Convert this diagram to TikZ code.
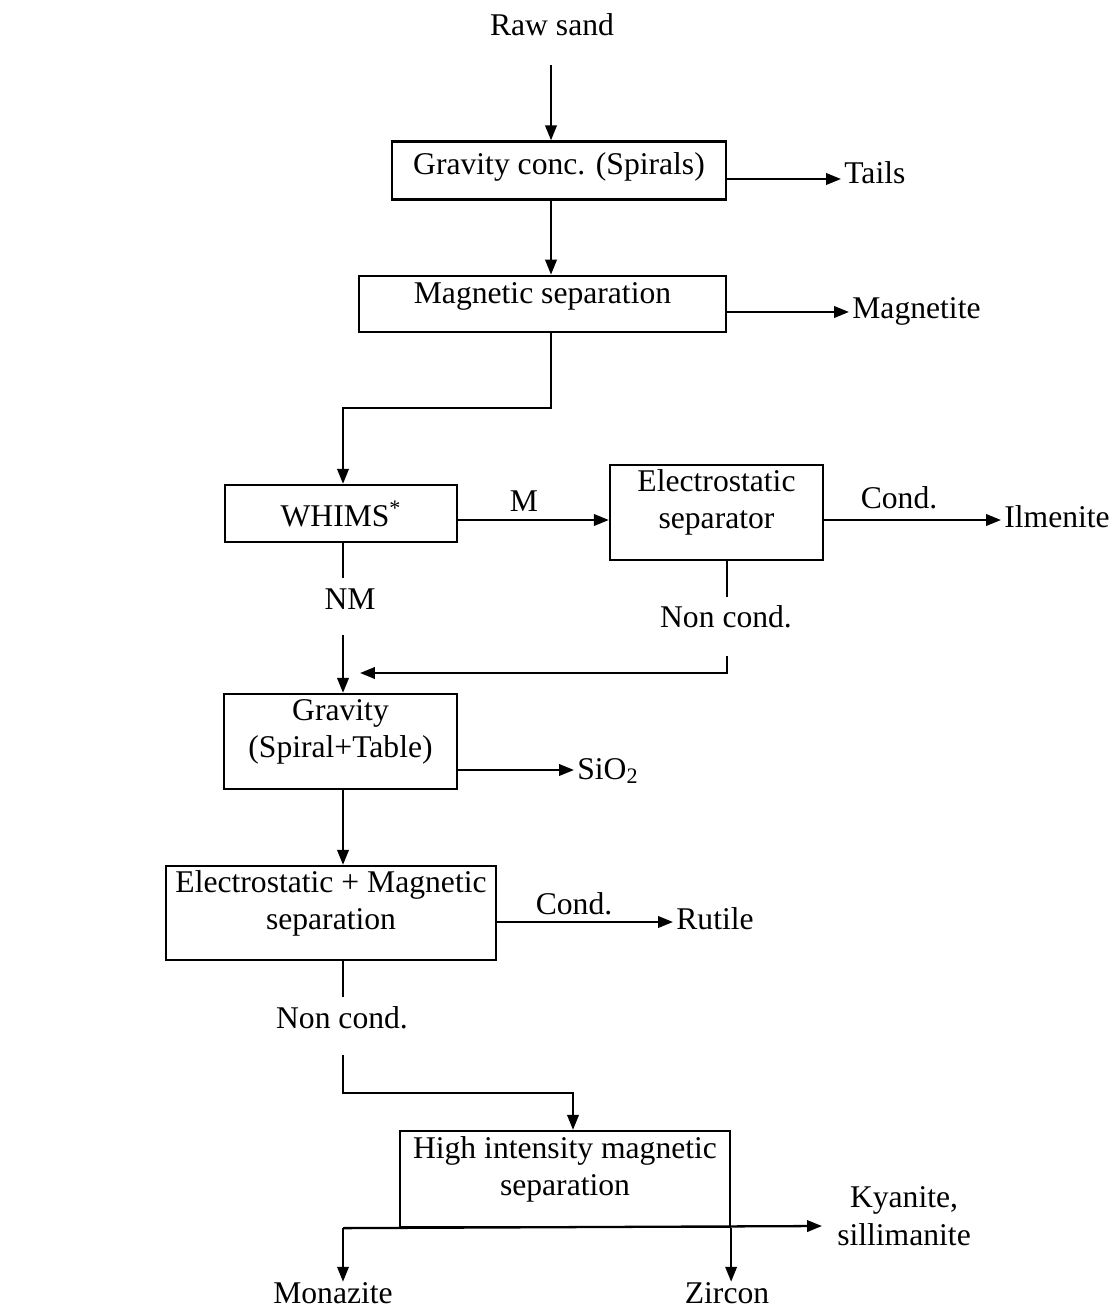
\documentclass[tikz,border=0pt]{standalone}
\usepackage{fontspec}
\setmainfont{Liberation Serif}
\usetikzlibrary{arrows.meta,positioning}

\tikzset{
  proc/.style={draw, line width=1.3pt, inner sep=0pt, align=center,
               font=\fontsize{18}{21.2}\selectfont},
  proctwo/.style={proc, text depth=15.1pt},
  lab/.style={inner xsep=1.7pt, inner ysep=0pt, align=center,
              font=\fontsize{18}{21.2}\selectfont},
  wire/.style={line width=1.3pt},
  flow/.style={wire, -{Triangle[length=8.5pt,width=6.5pt]}}
}

\begin{document}
\begin{tikzpicture}[x=0.02cm, y=-0.02cm]
\useasboundingbox (0,0) rectangle (1117,1310);

\node[proc, minimum width=6.68cm, minimum height=1.16cm, text depth=7.5pt] (gcs) at (559,170.5) {Gravity conc. (Spirals)};
\node[proc, minimum width=7.34cm, minimum height=1.12cm, text depth=12.3pt] (msep) at (542.5,303.8) {Magnetic separation};
\node[proc, minimum width=4.64cm, minimum height=1.14cm] (whims) at (341,513.5) {WHIMS\textsuperscript{*}};
\node[proctwo, minimum width=4.26cm, minimum height=1.9cm] (esep) at (716.5,512.5) {Electrostatic\\separator};
\node[proctwo, minimum width=4.66cm, minimum height=1.9cm] (grav) at (340.5,741.5) {Gravity\\(Spiral+Table)};
\node[proctwo, minimum width=6.6cm, minimum height=1.88cm] (emsep) at (331,913) {Electrostatic + Magnetic\\separation};
\node[proctwo, minimum width=6.6cm, minimum height=1.92cm] (hims) at (565,1179) {High intensity magnetic\\separation};

\node[lab, anchor=base] (raw) at (552,36) {Raw sand};
\node[lab, anchor=base west] (tails) at (841,184) {Tails};
\node[lab, anchor=base west] (mag) at (849,319) {Magnetite};
\node[lab, anchor=base] (mlab) at (524,511) {M};
\node[lab, anchor=base] (cond1) at (899,508) {Cond.};
\node[lab, anchor=base west] (ilm) at (1001,527) {Ilmenite};
\node[lab, anchor=base] (nm) at (350,609) {NM};
\node[lab, anchor=base] (nc1) at (726,627) {Non cond.};
\node[lab, anchor=base west] (sio) at (574,779) {SiO\textsubscript{2}};
\node[lab, anchor=base] (cond2) at (574,914) {Cond.};
\node[lab, anchor=base west] (rut) at (673,929) {Rutile};
\node[lab, anchor=base] (nc2) at (342,1028) {Non cond.};
\node[lab, anchor=base] (kya) at (904,1245) {Kyanite,\\sillimanite};
\node[lab, anchor=base] (mon) at (333,1303) {Monazite};
\node[lab, anchor=base] (zir) at (727,1303) {Zircon};

\coordinate (feed) at (551,65);
\coordinate (turn1) at (343,408);
\coordinate (nmend) at (343,578);
\coordinate (nmout) at (343,635);
\coordinate (nc1end) at (727,597);
\coordinate (nc1out) at (727,656);
\coordinate (join) at (360,673);
\coordinate (nc2end) at (343,997);
\coordinate (nc2out) at (343,1055);
\coordinate (turn2) at (573,1093);
\coordinate (split) at (hims.south west -| nc2out);
\coordinate (kyain) at (822,1226);

\draw[flow] (feed) -- (feed |- gcs.north);
\draw[flow] (gcs.east |- 0,179) -- (tails.west |- 0,179);
\draw[flow] (gcs.south -| feed) -- (msep.north -| feed);
\draw[flow] (msep.east |- 0,312) -- (mag.west |- 0,312);
\draw[flow] (msep.south -| feed) |- (turn1) -- (turn1 |- whims.north);
\draw[flow] (whims.east |- 0,520) -- (esep.west |- 0,520);
\draw[flow] (esep.east |- 0,520) -- (ilm.west |- 0,520);
\draw[wire] (whims.south -| turn1) -- (nmend);
\draw[flow] (nmout) -- (nmout |- grav.north);
\draw[wire] (esep.south -| nc1end) -- (nc1end);
\draw[flow] (nc1out) |- (join);
\draw[flow] (grav.east |- 0,770) -- (sio.west |- 0,770);
\draw[flow] (grav.south -| nmout) -- (emsep.north -| nmout);
\draw[flow] (emsep.east |- 0,922) -- (rut.west |- 0,922);
\draw[wire] (emsep.south -| nc2end) -- (nc2end);
\draw[flow] (nc2out) |- (turn2) -- (turn2 |- hims.north);
\draw[flow] (split) -- (kyain);
\draw[flow] (split) -- (split |- mon.north);
\draw[flow] (hims.south east) -- (hims.south east |- zir.north);
\end{tikzpicture}
\end{document}
